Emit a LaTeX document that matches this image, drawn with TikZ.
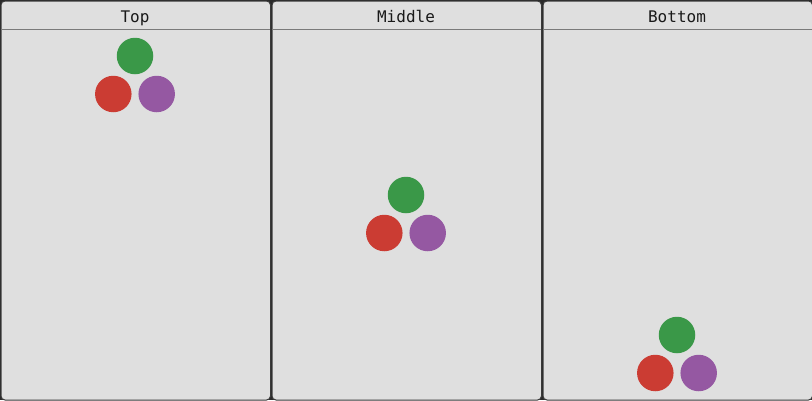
\documentclass[tikz,border=0pt]{standalone}
\usepackage{fontspec}
\setmonofont{DejaVu Sans Mono}
\definecolor{bgdark}{HTML}{2A2A2A}
\definecolor{panelbg}{HTML}{DFDFDF}
\definecolor{panelborder}{HTML}{3A3A3A}
\definecolor{headline}{HTML}{7A7A7A}
\definecolor{jgreen}{HTML}{3A9848}
\definecolor{jred}{HTML}{CB3C33}
\definecolor{jpurple}{HTML}{9558A2}
\begin{document}
\begin{tikzpicture}[x=1pt,y=-1pt,
  panelbox/.style={fill=panelbg,draw=panelborder,line width=1pt,rounded corners=4pt},
  headrule/.style={draw=headline,line width=1pt},
  title/.style={font=\ttfamily\fontsize{16}{19}\selectfont,text=black!90,inner sep=0pt,anchor=base},
  dot/.style={circle,minimum size=36.5pt,inner sep=0pt,draw=none}
]
\useasboundingbox[fill=bgdark] (0,0) rectangle (812,400);
\foreach \i/\name/\gy in {0/Top/56,1/Middle/195,2/Bottom/335}{
  \pgfmathsetmacro{\xl}{\i*271+0.5}
  \pgfmathsetmacro{\xr}{\i*271+270}
  \pgfmathsetmacro{\cx}{\i*271+135}
  \node[panelbox,minimum width=269.5pt,minimum height=399pt,anchor=north west,inner sep=0pt] (p\i) at (\xl,0.5) {};
  \coordinate (hl\i) at (\xl,29.5);
  \coordinate (hr\i) at (\xr,29.5);
  \draw[headrule] (hl\i) -- (hr\i);
  \node[title] (t\i) at (\cx,22.8) {\name};
  \node[dot,fill=jgreen] (g\i) at (\cx,\gy) {};
  \node[dot,fill=jred] (r\i) at (\cx-21.7,\gy+38) {};
  \node[dot,fill=jpurple] (v\i) at (\cx+21.7,\gy+38) {};
}
\end{tikzpicture}
\end{document}
